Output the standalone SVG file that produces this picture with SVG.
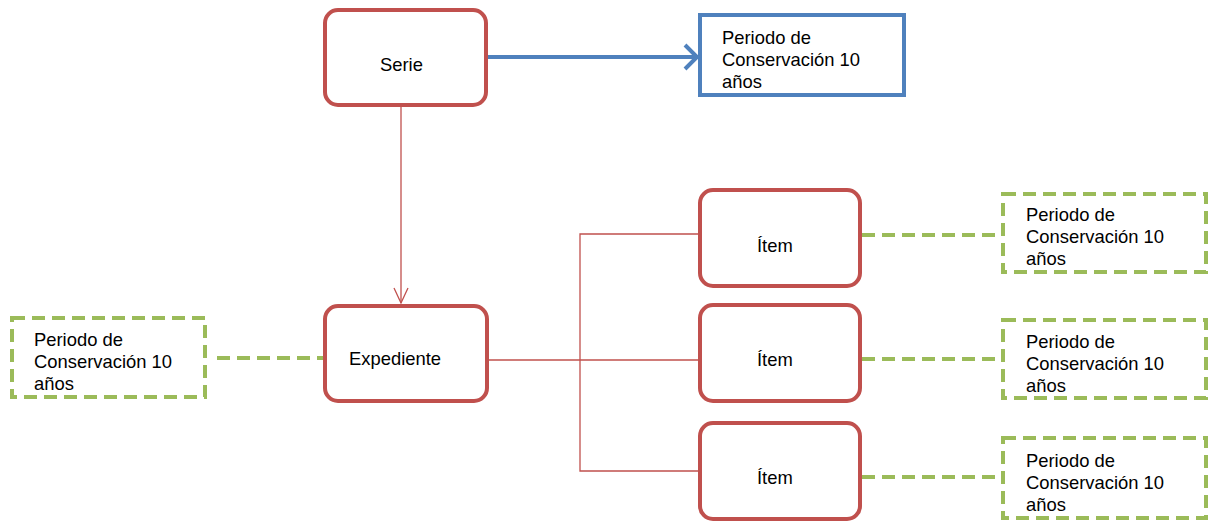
<svg xmlns="http://www.w3.org/2000/svg" width="1210" height="523" viewBox="0 0 1210 523">
<style>
.red{fill:#fff;stroke:#c0504d;stroke-width:4}
.green{fill:#fff;stroke:#9bbb59;stroke-width:4;stroke-dasharray:13 7}
.gline{fill:none;stroke:#9bbb59;stroke-width:4;stroke-dasharray:13 7}
.thin{fill:none;stroke:#c0504d;stroke-width:1.3}
text{font-family:"Liberation Sans",Arial,sans-serif;font-size:18.4px;fill:#000}
</style>
<defs>
<marker id="ab" markerUnits="userSpaceOnUse" markerWidth="20" markerHeight="30" refX="14" refY="15" orient="auto" viewBox="0 0 20 30">
<path d="M2,3 L14,15 L2,27" fill="none" stroke="#4f81bd" stroke-width="4"/>
</marker>
<marker id="ar" markerUnits="userSpaceOnUse" markerWidth="20" markerHeight="20" refX="10" refY="17" orient="0" viewBox="0 0 20 20">
<path d="M3,2 L10,17 L17,2" fill="none" stroke="#c0504d" stroke-width="1.3"/>
</marker>
</defs>
<g id="connectors">
<line x1="488" y1="57" x2="697" y2="57" stroke="#4f81bd" stroke-width="4" marker-end="url(#ab)"/>
<line x1="401" y1="106" x2="401" y2="303" class="thin" marker-end="url(#ar)"/>
<line x1="217" y1="358" x2="323" y2="358" class="gline"/>
<polyline points="488,360 580,360" class="thin"/>
<polyline points="700,234 580,234 580,471 700,471" class="thin"/>
<line x1="580" y1="360" x2="700" y2="360" class="thin"/>
<line x1="862" y1="235" x2="1002" y2="235" class="gline"/>
<line x1="862" y1="359" x2="1002" y2="359" class="gline"/>
<line x1="862" y1="477" x2="1002" y2="477" class="gline"/>
</g>
<g id="serie"><rect x="325" y="10" width="161" height="95" rx="13" class="red"/><text x="380" y="71">Serie</text></g>
<g id="periodo-serie"><rect x="700" y="15" width="204" height="80" fill="#fff" stroke="#4f81bd" stroke-width="4"/><text x="722" y="44">Periodo de</text><text x="722" y="66">Conservación 10</text><text x="722" y="88">años</text></g>
<g id="expediente"><rect x="325" y="306" width="162" height="95" rx="13" class="red"/><text x="349" y="365">Expediente</text></g>
<g id="periodo-expediente"><rect x="12" y="318" width="193" height="79" class="green"/><text x="34" y="346">Periodo de</text><text x="34" y="368">Conservación 10</text><text x="34" y="390">años</text></g>
<g id="item1"><rect x="700" y="190" width="160" height="96" rx="13" class="red"/><text x="757" y="252">Ítem</text></g>
<g id="item2"><rect x="700" y="305" width="160" height="96" rx="13" class="red"/><text x="757" y="366">Ítem</text></g>
<g id="item3"><rect x="700" y="423" width="160" height="96" rx="13" class="red"/><text x="757" y="484">Ítem</text></g>
<g id="periodo-item1"><rect x="1003" y="194" width="203" height="78" class="green"/><text x="1026" y="221">Periodo de</text><text x="1026" y="243">Conservación 10</text><text x="1026" y="265">años</text></g>
<g id="periodo-item2"><rect x="1003" y="320" width="203" height="78" class="green"/><text x="1026" y="348">Periodo de</text><text x="1026" y="370">Conservación 10</text><text x="1026" y="392">años</text></g>
<g id="periodo-item3"><rect x="1003" y="438" width="203" height="80" class="green"/><text x="1026" y="467">Periodo de</text><text x="1026" y="489">Conservación 10</text><text x="1026" y="511">años</text></g>
</svg>
